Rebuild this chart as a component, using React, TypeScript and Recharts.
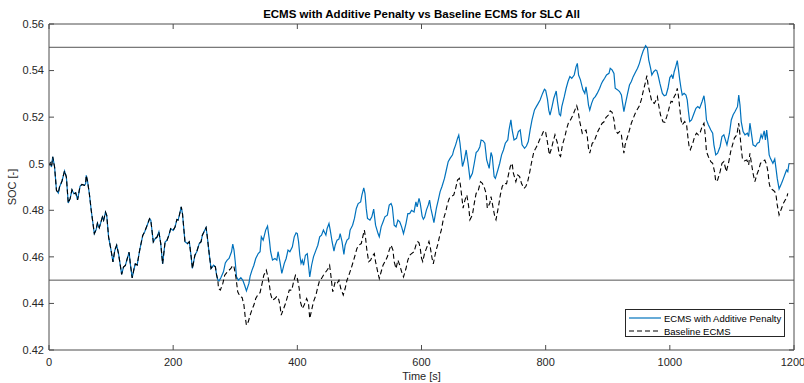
import {
  LineChart,
  Line,
  XAxis,
  YAxis,
  ReferenceLine,
} from "recharts";

// both runs are identical until the SOC first hits the lower bound
const sharedTime = [
  0, 2, 4, 6, 9, 12, 15, 17, 21, 25, 28, 31, 34, 37, 40, 43, 46, 50, 53, 57,
  59, 60, 62, 65, 68, 73, 76, 78, 81, 86, 88, 91, 93, 96, 100, 103, 106, 109,
  112, 117, 120, 123, 126, 129, 131, 134, 137, 139, 142, 146, 151, 154, 158,
  162, 164, 168, 171, 174, 177, 180, 183, 187, 190, 193, 196, 200, 203, 206,
  208, 210, 213, 215, 219, 223, 226, 229, 231, 235, 238, 242, 245, 247, 251,
  253, 255, 258, 261, 265, 268, 270, 272,
];
const sharedSoc = [
  0.4993, 0.5003, 0.4986, 0.503, 0.4986, 0.4886, 0.4874, 0.49, 0.4926, 0.4969,
  0.4943, 0.4831, 0.485, 0.4888, 0.4871, 0.4875, 0.4845, 0.4903, 0.4911, 0.4907,
  0.4914, 0.495, 0.4926, 0.4871, 0.48, 0.47, 0.4717, 0.4745, 0.4725, 0.4771,
  0.4757, 0.4792, 0.4778, 0.4685, 0.4628, 0.4578, 0.4628, 0.465, 0.4614, 0.4525,
  0.4556, 0.4563, 0.4592, 0.462, 0.457, 0.451, 0.4549, 0.457, 0.4565, 0.4628,
  0.4692, 0.4707, 0.4735, 0.4764, 0.4757, 0.4664, 0.4678, 0.4685, 0.4707,
  0.4657, 0.457, 0.4664, 0.4671, 0.4692, 0.4721, 0.4714, 0.4728, 0.476, 0.4758,
  0.4779, 0.4815, 0.4786, 0.4665, 0.4657, 0.4665, 0.46, 0.455, 0.4607, 0.4622,
  0.4657, 0.4665, 0.4693, 0.4715, 0.4726, 0.4686, 0.4614, 0.455, 0.4564, 0.4557,
  0.4521, 0.45,
];

const penaltyTime = [
  274, 277, 281, 284, 287, 290, 294, 296, 298, 300, 302, 305, 309, 312, 315,
  318, 322, 324, 327, 330, 333, 337, 340, 342, 345, 349, 352, 355, 357, 360,
  364, 367, 369, 372, 375, 379, 382, 385, 388, 392, 395, 398, 400, 402, 404,
  406, 408, 410, 413, 416, 418, 420, 423, 426, 430, 433, 436, 439, 442, 446,
  448, 451, 453, 456, 459, 461, 464, 467, 469, 472, 475, 477, 480, 483, 485,
  489, 492, 495, 498, 502, 504, 507, 509, 511, 513, 517, 520, 523, 526, 530,
  532, 535, 538, 541, 545, 548, 551, 553, 556, 559, 562, 565, 568, 571, 575,
  578, 581, 584, 588, 591, 593, 596, 598, 601, 603, 605, 608, 611, 613, 615,
  618, 620, 624, 627, 630, 633, 637, 640, 643, 646, 650, 652, 655, 658, 660,
  662, 666, 669, 672, 675, 678, 682, 685, 688, 691, 694, 696, 699, 702, 705,
  709, 712, 714, 717, 719, 723, 726, 729, 732, 735, 739, 741, 744, 746, 749,
  753, 756, 759, 762, 766, 769, 772, 775, 778, 782, 785, 788, 791, 795, 798,
  800, 803, 805, 807, 810, 813, 817, 819, 822, 824, 826, 830, 833, 836, 839,
  842, 846, 849, 851, 853, 856, 860, 863, 865, 867, 869, 871, 874, 877, 880,
  883, 887, 890, 892, 895, 898, 902, 904, 907, 910, 912, 916, 919, 922, 924,
  926, 928, 932, 935, 938, 941, 945, 948, 951, 954, 957, 961, 964, 966, 969,
  971, 974, 977, 979, 981, 984, 988, 991, 994, 997, 1000, 1003, 1005, 1007,
  1009, 1012, 1014, 1016, 1018, 1020, 1023, 1026, 1028, 1030, 1032, 1035, 1039,
  1042, 1045, 1048, 1052, 1055, 1057, 1059, 1062, 1066, 1069, 1071, 1074, 1077,
  1081, 1084, 1087, 1090, 1092, 1096, 1099, 1102, 1105, 1109, 1111, 1113, 1115,
  1118, 1121, 1125, 1127, 1129, 1131, 1134, 1138, 1141, 1144, 1147, 1149, 1152,
  1154, 1156, 1158, 1160, 1162, 1166, 1169, 1171, 1173, 1176, 1180, 1183, 1186,
  1188, 1190, 1192,
];
const penaltySoc = [
  0.4497, 0.4511, 0.4536, 0.4574, 0.4586, 0.4593, 0.4622, 0.4655, 0.4629,
  0.4579, 0.4514, 0.45, 0.4511, 0.45, 0.4479, 0.4454, 0.4486, 0.4517, 0.4543,
  0.4564, 0.4593, 0.4614, 0.4622, 0.4686, 0.4672, 0.4715, 0.4732, 0.4672,
  0.4622, 0.4586, 0.4593, 0.4586, 0.4622, 0.4579, 0.4529, 0.4572, 0.4593,
  0.4629, 0.4622, 0.4643, 0.4686, 0.4703, 0.47, 0.4665, 0.4607, 0.4572, 0.4586,
  0.4564, 0.4607, 0.4614, 0.4564, 0.4514, 0.4564, 0.46, 0.4629, 0.465, 0.4686,
  0.4693, 0.4715, 0.4693, 0.4722, 0.4743, 0.4715, 0.4665, 0.4625, 0.465,
  0.4672, 0.4676, 0.47, 0.4665, 0.461, 0.465, 0.4672, 0.4679, 0.4715, 0.4736,
  0.4765, 0.4808, 0.4829, 0.4836, 0.4865, 0.4896, 0.4872, 0.4808, 0.4765,
  0.4758, 0.4772, 0.4805, 0.4736, 0.47, 0.4686, 0.4729, 0.475, 0.4772, 0.4779,
  0.4822, 0.4829, 0.4815, 0.4736, 0.4729, 0.4758, 0.475, 0.4729, 0.47, 0.4743,
  0.4786, 0.4786, 0.48, 0.4793, 0.4836, 0.4815, 0.4851, 0.483, 0.4775, 0.4762,
  0.477, 0.4802, 0.4823, 0.4844, 0.4809, 0.4773, 0.4747, 0.4809, 0.4844, 0.488,
  0.4902, 0.4937, 0.4973, 0.5009, 0.5023, 0.5038, 0.5059, 0.5081, 0.5109,
  0.5123, 0.5088, 0.4988, 0.5016, 0.5059, 0.5002, 0.4937, 0.4959, 0.5002,
  0.5048, 0.5056, 0.5073, 0.5102, 0.5099, 0.5088, 0.5016, 0.498, 0.5048, 0.5031,
  0.4945, 0.4937, 0.4973, 0.5002, 0.5038, 0.5059, 0.5088, 0.5102, 0.5145,
  0.5188, 0.5145, 0.5102, 0.5109, 0.5138, 0.5145, 0.5081, 0.5066, 0.5076,
  0.5095, 0.5145, 0.5188, 0.5231, 0.5245, 0.5259, 0.5274, 0.5302, 0.532,
  0.5315, 0.5275, 0.523, 0.5209, 0.5242, 0.528, 0.5312, 0.5267, 0.5212, 0.5206,
  0.5245, 0.5288, 0.5324, 0.5353, 0.5374, 0.5367, 0.5381, 0.5417, 0.5431,
  0.5381, 0.536, 0.5317, 0.5302, 0.533, 0.5295, 0.5252, 0.523, 0.5259, 0.528,
  0.5288, 0.5302, 0.5324, 0.5345, 0.5355, 0.5367, 0.5381, 0.5388, 0.541,
  0.5403, 0.5388, 0.5324, 0.5317, 0.531, 0.5295, 0.5259, 0.5224, 0.5252, 0.5302,
  0.5338, 0.5353, 0.5374, 0.5395, 0.541, 0.5431, 0.546, 0.5484, 0.5507, 0.5496,
  0.5446, 0.541, 0.5381, 0.5395, 0.5403, 0.54, 0.5381, 0.5345, 0.5302, 0.5292,
  0.5295, 0.5324, 0.537, 0.5381, 0.5365, 0.5395, 0.5412, 0.5443, 0.5403, 0.536,
  0.5324, 0.5295, 0.5302, 0.5295, 0.5274, 0.5224, 0.5181, 0.5188, 0.5217,
  0.5238, 0.5245, 0.5238, 0.5267, 0.5292, 0.5252, 0.5188, 0.5167, 0.5145,
  0.5131, 0.5081, 0.5038, 0.5045, 0.5074, 0.5117, 0.5124, 0.5098, 0.5081,
  0.5131, 0.5188, 0.521, 0.5224, 0.5245, 0.5295, 0.5252, 0.5181, 0.5138, 0.5124,
  0.5131, 0.5117, 0.5174, 0.5138, 0.5081, 0.5074, 0.5088, 0.5092, 0.5124,
  0.511, 0.5141, 0.5102, 0.5145, 0.5095, 0.5038, 0.5023, 0.5002, 0.502, 0.498,
  0.4937, 0.4892, 0.4916, 0.4937, 0.4959, 0.4973, 0.4966, 0.5002,
];

const baselineTime = [
  273, 276, 280, 283, 286, 289, 293, 296, 298, 301, 304, 308, 311, 314, 316,
  318, 321, 324, 327, 330, 333, 337, 340, 343, 346, 350, 353, 355, 357, 360,
  364, 367, 370, 372, 374, 378, 381, 384, 387, 391, 394, 397, 400, 403, 405,
  408, 411, 415, 418, 420, 423, 426, 430, 433, 436, 439, 442, 446, 449, 452,
  454, 457, 461, 464, 467, 470, 474, 477, 480, 483, 487, 490, 493, 496, 499,
  503, 506, 508, 510, 512, 515, 518, 521, 524, 526, 530, 532, 535, 538, 541,
  545, 548, 551, 554, 556, 559, 562, 565, 568, 571, 575, 578, 581, 584, 588,
  591, 594, 596, 598, 600, 602, 605, 609, 612, 614, 617, 619, 623, 626, 629,
  632, 635, 639, 642, 645, 648, 652, 655, 658, 661, 663, 667, 670, 673, 676,
  678, 682, 685, 688, 691, 695, 698, 701, 704, 706, 710, 712, 715, 718, 720,
  724, 727, 730, 733, 737, 740, 743, 746, 748, 752, 755, 758, 761, 765, 768,
  771, 774, 777, 781, 784, 787, 790, 794, 797, 800, 803, 806, 809, 812, 815,
  819, 822, 824, 827, 831, 834, 837, 840, 844, 847, 850, 852, 855, 859, 862,
  865, 867, 869, 871, 875, 878, 881, 884, 888, 891, 894, 897, 901, 904, 907,
  910, 912, 916, 919, 922, 924, 926, 928, 932, 935, 938, 941, 945, 948, 951,
  954, 957, 961, 963, 965, 968, 971, 975, 978, 980, 982, 985, 989, 992, 995,
  998, 1000, 1002, 1004, 1007, 1010, 1012, 1014, 1016, 1018, 1020, 1024, 1027,
  1029, 1031, 1033, 1037, 1040, 1043, 1046, 1049, 1052, 1055, 1057, 1059, 1062,
  1066, 1069, 1072, 1074, 1077, 1081, 1084, 1087, 1089, 1091, 1095, 1098, 1101,
  1104, 1108, 1111, 1113, 1115, 1117, 1120, 1124, 1127, 1129, 1131, 1134, 1137,
  1140, 1143, 1146, 1149, 1153, 1156, 1158, 1160, 1162, 1166, 1169, 1171, 1173,
  1176, 1180, 1183, 1186, 1188, 1190,
];
const baselineSoc = [
  0.4464, 0.4457, 0.4486, 0.4521, 0.4531, 0.454, 0.455, 0.4564, 0.4557, 0.4514,
  0.445, 0.4428, 0.4426, 0.4393, 0.4343, 0.4307, 0.4321, 0.435, 0.4374, 0.4393,
  0.4421, 0.444, 0.4446, 0.4483, 0.4521, 0.4543, 0.4511, 0.4479, 0.444, 0.4414,
  0.4421, 0.4431, 0.4417, 0.4393, 0.435, 0.4378, 0.44, 0.4428, 0.4457, 0.4457,
  0.4493, 0.4521, 0.4507, 0.4465, 0.4407, 0.4378, 0.4393, 0.4421, 0.44, 0.4335,
  0.4371, 0.4407, 0.4436, 0.4471, 0.45, 0.4507, 0.4521, 0.4536, 0.4547, 0.4564,
  0.4521, 0.445, 0.4493, 0.4486, 0.45, 0.4464, 0.4436, 0.4464, 0.45, 0.4521,
  0.4553, 0.4579, 0.4607, 0.4636, 0.465, 0.4657, 0.4693, 0.4715, 0.4679,
  0.4629, 0.4579, 0.4586, 0.4604, 0.4614, 0.4579, 0.4529, 0.4507, 0.4536,
  0.4564, 0.4579, 0.46, 0.4629, 0.465, 0.4629, 0.4579, 0.455, 0.4586, 0.4564,
  0.4536, 0.4514, 0.455, 0.4586, 0.4607, 0.4614, 0.4622, 0.465, 0.4665, 0.466,
  0.4636, 0.4595, 0.458, 0.4616, 0.4644, 0.4666, 0.4644, 0.4594, 0.457, 0.4623,
  0.4651, 0.4687, 0.4716, 0.4759, 0.4794, 0.483, 0.4852, 0.4859, 0.4866, 0.4894,
  0.493, 0.4937, 0.4902, 0.4809, 0.4844, 0.4866, 0.4816, 0.4759, 0.478, 0.483,
  0.4873, 0.488, 0.4923, 0.4916, 0.4899, 0.4873, 0.4809, 0.483, 0.4859, 0.4816,
  0.4773, 0.4759, 0.4816, 0.4866, 0.4902, 0.4916, 0.4914, 0.4952, 0.4988,
  0.5002, 0.4959, 0.4923, 0.4952, 0.4945, 0.4916, 0.4894, 0.4902, 0.4923,
  0.4959, 0.5002, 0.5052, 0.5066, 0.5081, 0.5102, 0.5123, 0.5142, 0.5135,
  0.509, 0.5038, 0.5062, 0.5095, 0.5124, 0.5088, 0.5038, 0.5031, 0.5081, 0.5117,
  0.5152, 0.5178, 0.5188, 0.5209, 0.523, 0.5249, 0.523, 0.518, 0.513, 0.5138,
  0.5145, 0.5117, 0.5066, 0.5045, 0.5088, 0.5095, 0.5117, 0.5138, 0.516,
  0.5174, 0.518, 0.5198, 0.5209, 0.5227, 0.5221, 0.5188, 0.5145, 0.513, 0.5138,
  0.5124, 0.5081, 0.5045, 0.5081, 0.5117, 0.5145, 0.5174, 0.5195, 0.5221,
  0.5235, 0.5249, 0.5274, 0.531, 0.5353, 0.5378, 0.5338, 0.5302, 0.5267, 0.5259,
  0.5274, 0.5288, 0.5252, 0.5209, 0.518, 0.5178, 0.5202, 0.523, 0.5252, 0.5268,
  0.5265, 0.5288, 0.5302, 0.5324, 0.5288, 0.5238, 0.5188, 0.5167, 0.5181,
  0.5167, 0.5117, 0.5074, 0.506, 0.5088, 0.5117, 0.5131, 0.5124, 0.5135, 0.516,
  0.5174, 0.5124, 0.5052, 0.5031, 0.5009, 0.5002, 0.4966, 0.4923, 0.493,
  0.4966, 0.5002, 0.5009, 0.4988, 0.4966, 0.5009, 0.5052, 0.5081, 0.511, 0.5124,
  0.5174, 0.5124, 0.5066, 0.502, 0.5012, 0.5016, 0.4995, 0.5045, 0.5009, 0.4959,
  0.4923, 0.4952, 0.4973, 0.5002, 0.5009, 0.5016, 0.4995, 0.4966, 0.4916,
  0.4894, 0.4887, 0.488, 0.4866, 0.4823, 0.478, 0.4809, 0.483, 0.4845, 0.4852,
  0.4873,
];

const xTicks = [0, 200, 400, 600, 800, 1000, 1200];
const yTicks = [0.42, 0.44, 0.46, 0.48, 0.5, 0.52, 0.54, 0.56];
const socLimits = [0.45, 0.55];

const toPoints = (time: number[], soc: number[]) =>
  time.map((t, i) => ({ t, soc: soc[i] }));

const penaltyData = toPoints(
  sharedTime.concat(penaltyTime),
  sharedSoc.concat(penaltySoc)
);
const baselineData = toPoints(
  sharedTime.concat(baselineTime),
  sharedSoc.concat(baselineSoc)
);

const FONT = "'Liberation Sans', Arial, Helvetica, sans-serif";
const AXIS = "#4d4d4d";
const tickStyle = { fill: "#262626", fontSize: 11, fontFamily: FONT };

export default function App() {
  return (
    <div
      style={{
        position: "absolute",
        left: 0,
        top: 0,
        width: 804,
        height: 383,
        background: "#fff",
        fontFamily: FONT,
      }}
    >
      <div
        style={{
          position: "absolute",
          left: 49,
          width: 745,
          top: 7,
          textAlign: "center",
          fontSize: 11.5,
          fontWeight: "bold",
          lineHeight: "14px",
          color: "#000",
        }}
      >
        ECMS with Additive Penalty vs Baseline ECMS for SLC All
      </div>

      <LineChart
        width={804}
        height={383}
        margin={{ top: 0, right: 0, bottom: 0, left: 0 }}
      >
        <XAxis
          xAxisId="bottom"
          type="number"
          dataKey="t"
          domain={[0, 1200]}
          ticks={xTicks}
          allowDataOverflow
          height={33}
          tickSize={-5}
          tickMargin={13}
          tick={tickStyle}
          stroke={AXIS}
          label={{
            value: "Time [s]",
            position: "insideBottom",
            offset: 3,
            style: { fill: "#262626", fontSize: 11, fontFamily: FONT },
          }}
        />
        <XAxis
          xAxisId="top"
          orientation="top"
          type="number"
          dataKey="t"
          domain={[0, 1200]}
          ticks={xTicks}
          allowDataOverflow
          height={24}
          tickSize={-5}
          tickFormatter={() => ""}
          stroke={AXIS}
        />
        <YAxis
          yAxisId="left"
          type="number"
          domain={[0.42, 0.56]}
          ticks={yTicks}
          allowDataOverflow
          width={49}
          tickSize={-5}
          tickMargin={10}
          tick={tickStyle}
          tickFormatter={(v: number) => String(Number(v.toFixed(2)))}
          stroke={AXIS}
          label={{
            value: "SOC [-]",
            angle: -90,
            position: "insideLeft",
            offset: 12,
            style: {
              fill: "#262626",
              fontSize: 11,
              fontFamily: FONT,
              textAnchor: "middle",
            },
          }}
        />
        <YAxis
          yAxisId="right"
          orientation="right"
          type="number"
          domain={[0.42, 0.56]}
          ticks={yTicks}
          allowDataOverflow
          width={10}
          tickSize={-5}
          tickFormatter={() => ""}
          stroke={AXIS}
        />

        {socLimits.map((v) => (
          <ReferenceLine
            key={v}
            xAxisId="bottom"
            yAxisId="left"
            y={v}
            stroke="#555"
            strokeWidth={1}
          />
        ))}

        <Line
          xAxisId="bottom"
          yAxisId="left"
          data={penaltyData}
          dataKey="soc"
          type="linear"
          stroke="#0072BD"
          strokeWidth={1.2}
          dot={false}
          isAnimationActive={false}
        />
        <Line
          xAxisId="bottom"
          yAxisId="left"
          data={baselineData}
          dataKey="soc"
          type="linear"
          stroke="#000"
          strokeWidth={1.1}
          strokeDasharray="5 3"
          dot={false}
          isAnimationActive={false}
        />
      </LineChart>

      <div
        style={{
          position: "absolute",
          left: 625,
          top: 309,
          width: 160,
          height: 28,
          border: "1px solid #262626",
          background: "#fff",
          fontSize: 9.5,
          color: "#000",
          boxSizing: "border-box",
        }}
      >
        {[
          { name: "ECMS with Additive Penalty", color: "#0072BD", dash: "" },
          { name: "Baseline ECMS", color: "#000", dash: "5 3" },
        ].map((item, i) => (
          <div
            key={item.name}
            style={{
              position: "absolute",
              left: 2,
              top: 2 + i * 13.4,
              height: 12,
              display: "flex",
              alignItems: "center",
              whiteSpace: "nowrap",
            }}
          >
            <svg width={33} height={12} style={{ marginRight: 3 }}>
              <line
                x1={1}
                x2={33}
                y1={6}
                y2={6}
                stroke={item.color}
                strokeWidth={1.2}
                strokeDasharray={item.dash}
              />
            </svg>
            <span>{item.name}</span>
          </div>
        ))}
      </div>
    </div>
  );
}
